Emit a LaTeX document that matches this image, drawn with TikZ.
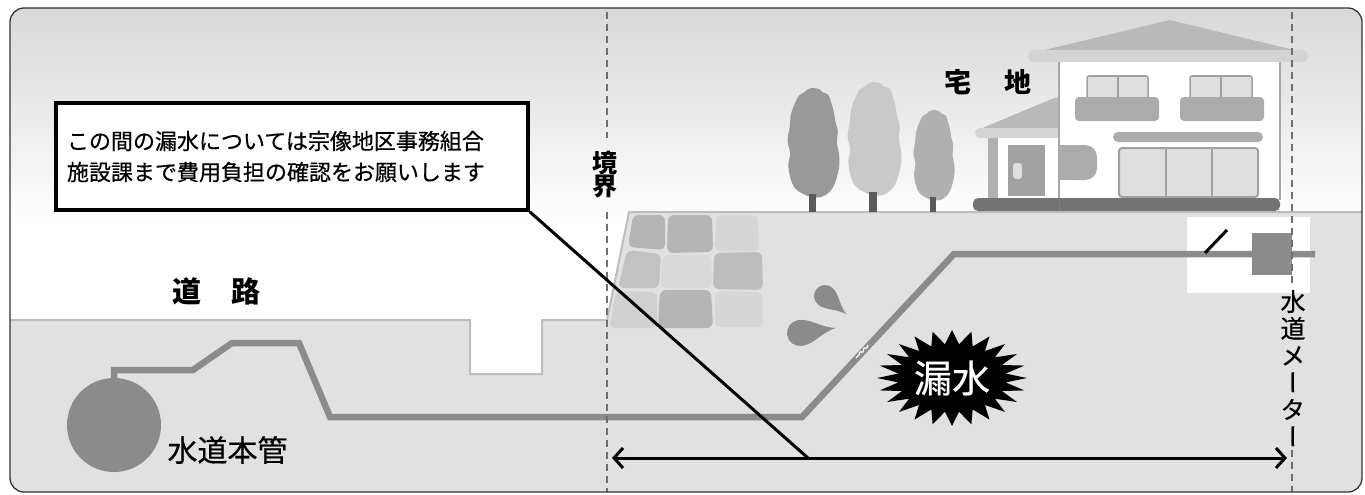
\documentclass[tikz,border=0pt]{standalone}
\usepackage{fontspec}
\setmainfont{Noto Sans CJK JP}
\newfontfamily\jpmed[FakeBold=0.5]{Noto Sans CJK JP}
\newfontfamily\jpvert[RawFeature=+vert, FakeBold=0.5]{Noto Sans CJK JP}
\usetikzlibrary{arrows.meta}

\definecolor{skytop}{HTML}{D8D8D8}
\definecolor{ground}{HTML}{E1E1E1}
\definecolor{groundline}{HTML}{BDBDBD}
\definecolor{pipegray}{HTML}{8B8B8B}
\definecolor{dashcol}{HTML}{6E6E6E}
\definecolor{framecol}{HTML}{333333}
\definecolor{trunk}{HTML}{5A5A5A}
\definecolor{roof}{HTML}{B9B9B9}
\definecolor{eave}{HTML}{D4D4D4}
\definecolor{wallgray}{HTML}{A8A8A8}
\definecolor{panel}{HTML}{ABABAB}
\definecolor{glass}{HTML}{DFDFDF}
\definecolor{base}{HTML}{737373}

% crown of a poplar-like tree: centre x, top y, half width, height, colour
\newcommand{\treecrown}[5]{%
  \begin{scope}[shift={(#1,#2)}, xscale=#3, yscale=#4]
    \fill[#5] plot[smooth cycle, tension=0.6] coordinates {
      (0,0) (0.25,0.015) (0.35,0.04) (0.55,0.06) (0.65,0.12) (0.75,0.2)
      (0.82,0.3) (0.92,0.4) (0.88,0.5) (0.96,0.6) (0.98,0.7) (0.9,0.8)
      (0.8,0.88) (0.62,0.95) (0.3,1.0) (-0.1,1.0) (-0.4,0.97) (-0.7,0.92)
      (-0.88,0.82) (-0.95,0.7) (-0.88,0.6) (-0.98,0.48) (-0.9,0.36)
      (-0.85,0.24) (-0.7,0.14) (-0.55,0.07) (-0.35,0.04) (-0.2,0.01)};
  \end{scope}}

% water drop: head centre, rotation, head radius, tip distance
\newcommand{\waterdrop}[4]{%
  \begin{scope}[shift={#1}, rotate=#2]
    \fill[pipegray] (#4,0) .. controls ({0.55*#4},{0.25*#3}) and ({0.35*#4},#3) .. (0,#3)
      arc[start angle=90, end angle=270, radius=#3]
      .. controls ({0.35*#4},-#3) and ({0.55*#4},{-0.25*#3}) .. (#4,0) -- cycle;
  \end{scope}}

\tikzset{
  bound/.style={draw=dashcol, line width=1.4pt, dash pattern=on 7pt off 5pt},
  pipe/.style={draw=pipegray, line width=6.5pt, line join=miter},
  callout/.style={draw=black, fill=white, line width=3.5pt, minimum width=472pt,
    minimum height=107pt, text width=450pt, align=left, inner sep=0pt,
    font=\jpmed\fontsize{22}{31}\selectfont},
  boldlabel/.style={inner sep=0pt, font=\bfseries\fontsize{#1}{#1}\selectfont},
  dimarrow/.style={line width=3pt,
    {Straight Barb[length=9pt,width=20pt]}-{Straight Barb[length=9pt,width=20pt]}},
  stone/.style={fill=#1, rounded corners=6pt},
}

\begin{document}
\begin{tikzpicture}[x=1pt, y=-1pt]
\useasboundingbox (0,0) rectangle (1365,495);

\begin{scope}
  \clip[rounded corners=14pt] (10,8) rectangle (1362,492);
  % sky
  \fill[white] (10,8) rectangle (1362,492);
  \shade[top color=skytop, bottom color=white] (10,8) rectangle (1362,225);

  % ground with road, gutter and raised lot
  \fill[ground] (10,320) -- (470,320) -- (470,374) -- (542,374) -- (542,320)
    -- (607,320) -- (629,212) -- (1362,212) -- (1362,492) -- (10,492) -- cycle;
  \draw[groundline, line width=2pt] (0,320) -- (470,320) -- (470,374) -- (542,374)
    -- (542,320) -- (607,320) -- (629,212) -- (1370,212);

  % retaining wall stones
  \fill[stone=black!29] (633,215) -- (665,215) -- (665,250) -- (628,247) -- cycle;
  \fill[stone=black!29] (668,215) -- (712,215) -- (713,252) -- (667,253) -- cycle;
  \fill[stone=black!16] (716,215) -- (758,215) -- (759,251) -- (715,251) -- cycle;
  \fill[stone=black!24] (627,250) -- (661,254) -- (659,288) -- (618,288) -- cycle;
  \fill[stone=black!15] (663,255) -- (711,255) -- (712,288) -- (660,288) -- cycle;
  \fill[stone=black!26] (714,253) -- (762,252) -- (763,290) -- (713,289) -- cycle;
  \fill[stone=black!18] (616,291) -- (657,292) -- (657,328) -- (609,328) -- cycle;
  \fill[stone=black!29] (660,290) -- (711,290) -- (713,328) -- (658,328) -- cycle;
  \fill[stone=black!16] (715,291) -- (762,292) -- (763,327) -- (715,327) -- cycle;

  % trees
  \treecrown{813.5}{88}{26.5}{109}{black!40}
  \treecrown{874.5}{82}{27.5}{113}{black!21}
  \treecrown{934}{110}{21}{90}{black!31}
  \fill[trunk] (809,194) rectangle (816,212);
  \fill[trunk] (869,192) rectangle (877,212);
  \fill[trunk] (930,197) rectangle (936,212);

  % house: annex
  \fill[white] (988,136) rectangle (1059,200);
  \fill[black!31] (988,136) rectangle (998,200);
  \fill[roof, rounded corners=4pt] (980,129) -- (1059,96) -- (1059,129) -- cycle;
  \fill[eave, rounded corners=5pt] (975,128) rectangle (1063,138);
  \fill[black!37] (1008,145) rectangle (1045,196);
  \fill[black!13, rounded corners=3pt] (1013,163) rectangle (1022,179);
  % house: main body
  \fill[white] (1059,62) rectangle (1280,200);
  \draw[wallgray, line width=1.5pt] (1059,62) -- (1059,211);
  \draw[wallgray, line width=1.5pt] (1280,62) -- (1280,200);
  \fill[roof] (1036,52) -- (1170,20) -- (1302,52) -- cycle;
  \fill[eave, rounded corners=5pt] (1028,50) rectangle (1308,62);
  % upper windows with flower boxes
  \filldraw[fill=glass, draw=black!37, line width=1.5pt, rounded corners=2pt] (1087,76) rectangle (1148,100);
  \draw[black!37, line width=1.5pt] (1118,76) -- (1118,98);
  \fill[panel, rounded corners=4pt] (1075,97) rectangle (1159,121);
  \filldraw[fill=glass, draw=black!37, line width=1.5pt, rounded corners=2pt] (1190,76) rectangle (1252,100);
  \draw[black!37, line width=1.5pt] (1221,76) -- (1221,98);
  \fill[panel, rounded corners=4pt] (1180,97) rectangle (1264,121);
  % awning and lower window
  \fill[panel, rounded corners=5pt] (1113,132) rectangle (1263,142);
  \filldraw[fill=glass, draw=black!37, line width=2pt, rounded corners=3pt] (1119,148) rectangle (1258,197);
  \draw[black!37, line width=2pt] (1166,148) -- (1166,197) (1212,148) -- (1212,197);
  % bay beside the door
  \fill[panel, rounded corners=12pt] (1059,145) rectangle (1097,180);
  \fill[panel] (1059,145) rectangle (1075,180);
  % foundation
  \fill[base, rounded corners=5pt] (973,198) rectangle (1280,211);
  \draw[black!50, line width=0.6pt] (1059,198) -- (1059,211);

  % meter pit
  \fill[white] (1187,217) rectangle (1310,293);

  % service pipe from the main to the meter
  \node[circle, fill=pipegray, minimum size=94pt, inner sep=0pt] (main) at (114,425) {};
  \coordinate (pipeend) at (1315,254);
  \draw[pipe] (main.north) -- (114,370) -- (193,370) -- (232,343) -- (299,343)
    -- (330,417) -- (802,417) -- (954,254) -- (pipeend);
  % crack in the pipe
  \draw[white, line width=1.2pt] (856,358) -- (859,355) -- (860,352) -- (863,352)
    -- (864,348) -- (867,348) -- (868,345);
  % spraying water
  \waterdrop{(825,296)}{-40.6}{11}{28}
  \waterdrop{(800,333)}{8}{13}{36}

  % meter and stop valve
  \node[fill=pipegray, minimum width=40pt, minimum height=42pt, inner sep=0pt] (meter) at (1272,254) {};
  \draw[line width=3pt] (1205,253) -- (1227,230);

  % boundary labels and dashed boundary lines
  \node[align=center, font=\bfseries\fontsize{25}{23}\selectfont,
        inner xsep=0pt, inner ysep=13pt] (kyokai) at (605,175) {境\\界};
  \node[inner xsep=0pt, inner ysep=4pt, align=center,
        font=\jpvert\fontsize{25}{27}\selectfont] (mlabel) at (1293,368)
        {水\\道\\メ\\ー\\タ\\ー};
  \coordinate (b1top) at (607,0);
  \coordinate (b1bot) at (607,495);
  \coordinate (b2top) at (1292,0);
  \coordinate (b2bot) at (1292,495);
  \draw[bound] (b1top) -- (b1top |- kyokai.north);
  \draw[bound] (b1top |- kyokai.south) -- (b1bot);
  \draw[bound] (b2top) -- (b2top |- mlabel.north);
  \draw[bound] (b2top |- mlabel.south) -- (b2bot);

  % span of the owner's responsibility
  \coordinate (aL) at (612,458);
  \coordinate (aR) at (1287,458);
  \coordinate (ptr) at (808,458);
  \draw[dimarrow] (aL) -- (aR);

  % note with pointer
  \node[callout] (note) at (292,156.5)
    {この間の漏水については宗像地区事務組合\\施設課まで費用負担の確認をお願いします};
  \draw[line width=3pt] (note.south east) -- (ptr);

  % place labels
  \node[boldlabel=27] (lot) at (988,82) {宅\hspace{33pt}地};
  \node[boldlabel=29] (road) at (216.5,291) {道\hspace{31pt}路};
  \node[inner sep=0pt, font=\jpmed\fontsize{30}{30}\selectfont] (mainlabel) at (227.5,450) {水道本管};

  % leak burst
  \coordinate (leakc) at (952,378);
  \begin{scope}[shift={(leakc)}]
    \fill[black] (75,0)
      \foreach \i [evaluate=\i as \rx using {ifthenelse(mod(\i,2)==0,75,54)},
                   evaluate=\i as \ry using {ifthenelse(mod(\i,2)==0,48,34)}]
        in {1,...,47} { -- ({\rx*cos(\i*7.5)},{\ry*sin(\i*7.5)}) } -- cycle;
  \end{scope}
  \node[white, inner sep=0pt, font=\jpmed\fontsize{38}{38}\selectfont] (leak) at (leakc) {漏水};
\end{scope}

% outer frame
\draw[framecol, line width=1.3pt, rounded corners=14pt] (10,8) rectangle (1362,492);
\end{tikzpicture}
\end{document}
